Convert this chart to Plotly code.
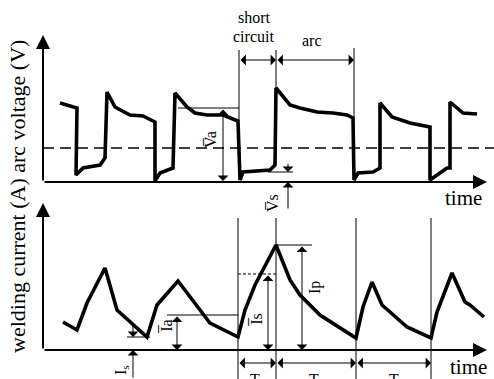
import plotly.graph_objects as go

# ---------------- data (arbitrary schematic units) ----------------
# arc voltage waveform: time, voltage
volt_t = [17, 34, 33, 40, 57, 62, 64, 72, 87, 100, 112, 112, 117, 124, 130, 132, 144, 152, 164, 180,
          195, 197, 200, 227, 232, 233, 247, 257, 274, 290, 304, 310, 311, 315, 330, 337, 337, 349,
          367, 387, 387, 404, 407, 407, 420, 434]
volt_v = [79, 74, 7, 14, 17, 24, 90, 75, 67, 66, 60, 1, 9, 12, 14, 89, 75, 69, 67, 67,
          61, 2, 10, 12, 17, 94, 77, 74, 70, 69, 67, 64, 2, 9, 10, 14, 79, 65,
          59, 55, 2, 14, 14, 80, 69, 68]

# welding current waveform: time, current
curr_t = [20, 34, 44, 62, 74, 90, 104, 114, 135, 167, 195, 202, 212, 233, 247, 257, 277, 313,
          320, 329, 339, 347, 364, 388, 394, 409, 422, 427, 441]
curr_i = [28, 20, 47, 82, 40, 25, 13, 45, 69, 27, 13, 40, 65, 105, 70, 55, 35, 12,
          43, 68, 45, 38, 23, 12, 38, 77, 48, 45, 33]

# characteristic levels
v_dash = 34      # dashed reference voltage
v_a = 74         # mean arc voltage
v_s = 10         # short-circuit voltage
i_smin = 13      # minimum current
i_a = 35         # mean arc current
i_s = 76         # short-circuit current level
i_p = 105        # peak current

# characteristic instants
t_sc = 196       # short circuit begins
t_arc = 233      # arc re-ignites
t_end = 311      # arc ends
t_lower = [195, 233, 313, 388]

period_labels = ["T<sub>s</sub>", "T<sub>a</sub>", "T"]

# ---------------- figure ----------------
X_RANGE = [-43, 451]
YV_RANGE = [-197, 182]
YI_RANGE = [-29, 350]
SERIF = "Liberation Serif, Times New Roman, serif"

fig = go.Figure()
fig.add_trace(go.Scatter(x=volt_t, y=volt_v, mode="lines", yaxis="y",
                         line=dict(color="black", width=3.6), hoverinfo="skip"))
fig.add_trace(go.Scatter(x=curr_t, y=curr_i, mode="lines", yaxis="y2",
                         line=dict(color="black", width=3.6), hoverinfo="skip"))

shapes = []
ann = []


def seg(x0, y0, x1, y1, yref="y", width=1, dash=None):
    d = dict(type="line", xref="x", yref=yref, x0=x0, y0=y0, x1=x1, y1=y1,
             line=dict(color="black", width=width))
    if dash:
        d["line"]["dash"] = dash
    shapes.append(d)


def arrow(xt, yt, xs, ys, yref="y", both=False, width=1.0, size=1.8, head=1):
    a = dict(x=xt, y=yt, ax=xs, ay=ys, xref="x", yref=yref, axref="x", ayref=yref,
             text="", showarrow=True, arrowhead=head, arrowsize=size, arrowwidth=width,
             arrowcolor="black", standoff=0, startstandoff=0)
    if both:
        a["arrowside"] = "end+start"
        a["startarrowhead"] = head
        a["startarrowsize"] = size
    ann.append(a)


def label(x, y, text, yref="y", size=16, angle=0, xanchor="center", yanchor="middle"):
    ann.append(dict(x=x, y=y, xref="x", yref=yref, text=text, showarrow=False,
                    textangle=angle, xanchor=xanchor, yanchor=yanchor,
                    font=dict(family=SERIF, size=size, color="black")))


# ----- upper panel (arc voltage) -----
arrow(0, 147, 0, 0, "y", width=2, size=1.4, head=2)          # y axis
arrow(444, 0, 0, 0, "y", width=2, size=1.4, head=2)          # time axis
seg(0, v_dash, 451, v_dash, "y", width=1.3, dash="11px,6px")
seg(135, v_a, t_sc, v_a)                                     # Va level
arrow(180, 1, 180, v_a, "y", both=True)
label(167, 42, "V\u0305a", angle=-90)
seg(t_sc, 61, t_sc, 132)
seg(t_arc, 94, t_arc, 132)
seg(t_end, 64, t_end, 134)
arrow(t_arc, 122, t_sc, 122, "y", both=True)
arrow(t_end, 122, t_arc, 122, "y", both=True)
label(211, 165, "short", size=16)
label(210, 146, "circuit", size=16)
label(269, 142, "arc", size=16)
seg(225, v_s, 250, v_s)                                      # Vs level
arrow(245, v_s, 245, 20)
arrow(245, 0, 245, -28)
label(229, -21, "V\u0305s", angle=-90)
label(420, -16, "time", size=21)
label(-26, -15, "welding current (A) arc voltage (V)", size=22, angle=-90)

# ----- lower panel (welding current) -----
arrow(0, 147, 0, 0, "y2", width=2, size=1.4, head=2)
arrow(444, 0, 0, 0, "y2", width=2, size=1.4, head=2)
seg(84, i_smin, 107, i_smin, "y2")
arrow(90, i_smin, 90, 26, "y2")
arrow(90, 0, 90, -29, "y2")
label(78, -20, "I<sub>s</sub>", "y2", angle=-90)
seg(124, i_a, t_lower[0], i_a, "y2")
arrow(134, 0, 134, i_a, "y2", both=True)
label(123, 23, "I\u0305a", "y2", angle=-90)
for tl in t_lower:
    seg(tl, 132, tl, -29, "y2")
seg(t_lower[0], i_s, t_lower[1], i_s, "y2", dash="3px,2px")
arrow(225, 0, 225, i_s, "y2", both=True)
label(213, 30, "I\u0305s", "y2", angle=-90)
seg(t_lower[1], i_p, 269, i_p, "y2")
arrow(259, 0, 259, i_p, "y2", both=True)
label(272, 62, "Ip", "y2", angle=-90)
for k in range(3):
    arrow(t_lower[k + 1], -13, t_lower[k], -13, "y2", both=True)
    label((t_lower[k] + t_lower[k + 1]) / 2, -19, period_labels[k], "y2", yanchor="top")
label(425, -17, "time", "y2", size=21)

fig.update_layout(
    width=494, height=379,
    margin=dict(l=0, r=0, t=0, b=0),
    paper_bgcolor="white", plot_bgcolor="white",
    showlegend=False,
    xaxis=dict(range=X_RANGE, visible=False, fixedrange=True),
    yaxis=dict(range=YV_RANGE, visible=False, fixedrange=True),
    yaxis2=dict(range=YI_RANGE, visible=False, overlaying="y", fixedrange=True),
    shapes=shapes,
    annotations=ann,
)

fig.write_html("out.html", config={"displayModeBar": False},
               post_script="document.body.style.margin='0px';document.body.style.overflow='hidden';")
